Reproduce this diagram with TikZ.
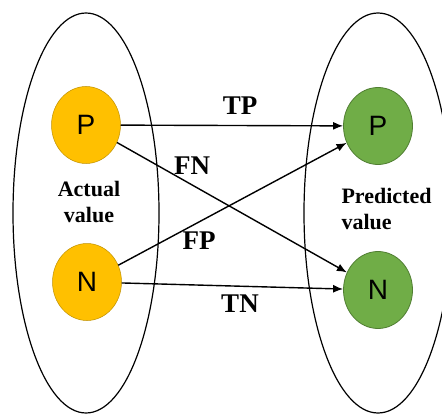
\documentclass[tikz,border=0pt]{standalone}
\usepackage{fontspec}
\setmainfont{Liberation Serif}
\newfontfamily\arialfont{Liberation Sans}
\usetikzlibrary{shapes.geometric,arrows.meta}

\definecolor{actfill}{HTML}{FFC000}
\definecolor{actline}{HTML}{BF9000}
\definecolor{predfill}{HTML}{70AD47}
\definecolor{predline}{HTML}{507E32}

\tikzset{
 cls/.style={ellipse, minimum width=69pt, minimum height=77pt, inner sep=0pt,
  font=\arialfont\fontsize{28}{28}\selectfont},
 actcls/.style={cls, fill=actfill, draw=actline, line width=0.5pt},
 predcls/.style={cls, fill=predfill, draw=predline, line width=0.8pt},
 arr/.style={-{Latex[length=10pt,width=8pt]}, line width=1.4pt},
 rate/.style={font=\bfseries\fontsize{27}{27}\selectfont},
 side/.style={font=\bfseries\fontsize{22}{26}\selectfont}
}

\begin{document}
\begin{tikzpicture}[x=1pt,y=-1pt]
\useasboundingbox (0,0) rectangle (442,417);
\clip (0,0) rectangle (442,417);

% the two sets
\draw [line width=1.2pt] (86,213) ellipse (73pt and 200pt);
\draw [line width=1.2pt] (378,213) ellipse (74pt and 200pt);

% classes
\node [actcls] (actP) at (86,125) {P};
\node [actcls] (actN) at (87,282) {N};
\node [predcls] (predP) at (378,126) {P};
\node [predcls] (predN) at (378,290) {N};

\node [side, align=center] (actLbl) at (89,202) {Actual\\value};
\node [side, align=left, anchor=west] (predLbl) at (338,209) {Predicted\\value};

% outcomes
\draw [arr] (actP) -- (predP);
\draw [arr] (actP) -- (predN);
\draw [arr] (actN) -- (predP);
\draw [arr] (actN) -- (predN);

\node [rate] (tp) at (240,106) {TP};
\node [rate] (fn) at (192,166) {FN};
\node [rate] (fp) at (199,241) {FP};
\node [rate] (tn) at (240,304) {TN};

\end{tikzpicture}
\end{document}
